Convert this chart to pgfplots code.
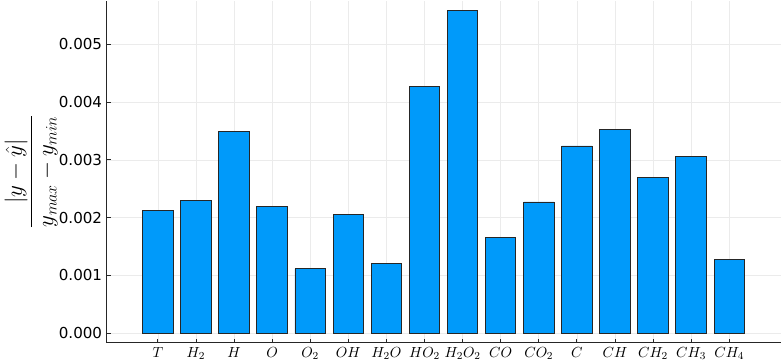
\documentclass[border=0pt]{standalone}
\usepackage{fontspec}
\setmainfont{DejaVu Sans}
\usepackage{pgfplots}
\pgfplotsset{compat=1.18}
\definecolor{juliaBlue}{RGB}{0,154,250}

\begin{document}
\begin{tikzpicture}
\begin{axis}[
  scale only axis,
  width=505pt, height=256pt,
  xmin=-0.34, xmax=17.37,
  ymin=-0.000165, ymax=0.00576,
  axis x line*=bottom, axis y line*=left,
  axis line style={line width=0.8pt, black!85},
  xtick={1,...,16},
  xticklabels={$T$,$H_2$,$H$,$O$,$O_2$,$OH$,$H_2O$,$HO_2$,$H_2O_2$,$CO$,$CO_2$,$C$,$CH$,$CH_2$,$CH_3$,$CH_4$},
  ytick={0,0.001,0.002,0.003,0.004,0.005},
  scaled y ticks=false,
  yticklabel style={font=\fontsize{11.3}{13}\selectfont,
    /pgf/number format/fixed, /pgf/number format/fixed zerofill,
    /pgf/number format/precision=3, /pgf/number format/assume math mode=true},
  xticklabel style={font=\fontsize{11}{13}\selectfont},
  tick align=inside,
  major tick length=3pt,
  tick style={black!85, line width=0.6pt},
  grid=major,
  major grid style={black!8, line width=0.5pt},
  ylabel={$\displaystyle\frac{|y-\hat{y}|}{y_{max}-y_{min}}$},
  ylabel style={font=\fontsize{16.5}{20}\selectfont},
  ylabel shift=-6pt,
]
\addplot[ybar, bar width=0.8, fill=juliaBlue, draw=black!85, line width=0.7pt]
  coordinates {
  (1,0.00213) (2,0.00229) (3,0.00349) (4,0.00219) (5,0.00111) (6,0.00205)
  (7,0.00120) (8,0.00427) (9,0.00558) (10,0.00165) (11,0.00227) (12,0.00324)
  (13,0.00352) (14,0.00269) (15,0.00305) (16,0.00127)
  };
\end{axis}
\end{tikzpicture}
\end{document}
